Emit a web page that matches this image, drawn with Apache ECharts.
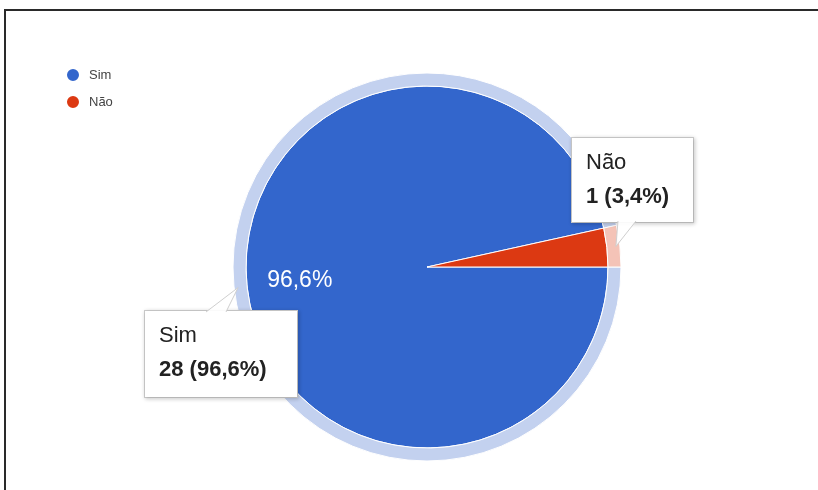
<!DOCTYPE html>
<html>
<head>
<meta charset="utf-8">
<script src="https://cdn.jsdelivr.net/npm/echarts@6/dist/echarts.min.js"></script>
<style>
  html, body { margin: 0; padding: 0; background: #fff; }
  #wrap { position: relative; width: 818px; height: 490px; overflow: hidden; }
  #chart { position: absolute; left: 0; top: 0; width: 818px; height: 490px; }
  #frame { position: absolute; left: 4px; top: 9px; right: -4px; bottom: -4px;
           border-top: 2px solid #2a2a2a; border-left: 2px solid #2a2a2a; pointer-events: none; }
</style>
</head>
<body>
<div id="wrap">
  <div id="chart"></div>
  <div id="frame"></div>
</div>
<script>
// Answers and how many respondents gave each
const categories = ['Sim', 'Não'];
const counts = [28, 1];

// Slice colours and their lighter outer-ring tints
const sliceColors = ['#3366cc', '#dc3912'];
const ringColors = ['#c3d1ef', '#f4c3b7'];

// Geometry of the pie
const center = [427, 267];
const pieRadius = 181;
const ringRadius = [181, 194];
const startAngle = 0;

// Callout boxes: [left, top, width, height] and the base of each pointer
const callouts = [
  { box: [145, 311, 152, 86], base: [[206, 312], [226, 312]] },
  { box: [572, 138, 121, 84], base: [[618, 221], [636, 221]] }
];

const FONT = 'Arial, "Liberation Sans", sans-serif';
const total = counts.reduce((a, b) => a + b, 0);
const pct = v => (v / total * 100).toFixed(1).replace('.', ',') + '%';

// Mid-angle point of a slice at a given radius (clockwise from startAngle)
function slicePoint(i, r) {
  let before = 0;
  for (let k = 0; k < i; k++) before += counts[k];
  const deg = startAngle - (before + counts[i] / 2) / total * 360;
  const rad = deg * Math.PI / 180;
  return [center[0] + r * Math.cos(rad), center[1] - r * Math.sin(rad)];
}

const mainData = categories.map((name, i) => ({
  name, value: counts[i], itemStyle: { color: sliceColors[i] }
}));
const ringData = categories.map((name, i) => ({
  name, value: counts[i], itemStyle: { color: ringColors[i] }
}));
const innerData = categories.map((name, i) => ({
  name, value: counts[i], itemStyle: { color: 'rgba(0,0,0,0)' },
  label: { show: i === 0 }
}));
const calloutData = categories.map((name, i) => ({
  name, value: counts[i], itemStyle: { color: 'rgba(0,0,0,0)' },
  label: { width: callouts[i].box[2] - 28, height: callouts[i].box[3] - 16 }
}));

// Pointer wedges joining each callout box to its slice
const pointers = [];
categories.forEach((name, i) => {
  const tip = slicePoint(i, 190);
  const b = callouts[i].base;
  pointers.push({
    type: 'polygon', z: 30, silent: true,
    shape: { points: [b[0], tip, b[1]] },
    style: { fill: 'rgba(255,255,255,0.92)' }
  });
  pointers.push({
    type: 'polyline', z: 31, silent: true,
    shape: { points: [b[0], tip, b[1]] },
    style: { stroke: '#cfcfcf', lineWidth: 1, fill: null }
  });
});

const chart = echarts.init(document.getElementById('chart'), null, { renderer: 'canvas' });
chart.setOption({
  animation: false,
  backgroundColor: '#ffffff',
  legend: {
    orient: 'vertical',
    left: 60,
    top: 62,
    icon: 'circle',
    itemWidth: 14,
    itemHeight: 14,
    itemGap: 11,
    data: categories,
    textStyle: { fontFamily: FONT, fontSize: 13, color: '#444', padding: [0, 0, 0, 4] }
  },
  graphic: pointers,
  series: [
    {
      name: 'main', type: 'pie', z: 2,
      center: center, radius: [0, pieRadius],
      startAngle: startAngle, clockwise: true,
      silent: true, avoidLabelOverlap: false,
      label: { show: false }, labelLine: { show: false },
      itemStyle: { borderColor: '#ffffff', borderWidth: 1 },
      data: mainData
    },
    {
      name: 'ring', type: 'pie', z: 2,
      center: center, radius: ringRadius,
      startAngle: startAngle, clockwise: true,
      silent: true, avoidLabelOverlap: false,
      label: { show: false }, labelLine: { show: false },
      itemStyle: { borderColor: '#ffffff', borderWidth: 1 },
      data: ringData
    },
    {
      name: 'inner', type: 'pie', z: 3,
      center: center, radius: [69, pieRadius],
      startAngle: startAngle, clockwise: true,
      silent: true, avoidLabelOverlap: false,
      labelLine: { show: false },
      label: {
        position: 'inside',
        formatter: p => pct(p.value),
        color: '#ffffff', fontFamily: FONT, fontSize: 23
      },
      data: innerData
    },
    {
      name: 'callouts', type: 'pie', z: 20,
      center: center, radius: ringRadius,
      startAngle: startAngle, clockwise: true,
      silent: true, avoidLabelOverlap: false,
      labelLine: { show: false },
      label: {
        show: true,
        position: 'outside',
        formatter: p => '{n|' + p.name + '}\n{v|' + p.value + ' (' + pct(p.value) + ')}',
        backgroundColor: '#ffffff',
        borderColor: '#cccccc',
        borderWidth: 1,
        shadowColor: 'rgba(0,0,0,0.18)',
        shadowBlur: 4,
        shadowOffsetX: 1,
        shadowOffsetY: 1,
        padding: [8, 14, 8, 14],
        align: 'left',
        rich: {
          n: { fontFamily: FONT, fontSize: 22, color: '#222', lineHeight: 34 },
          v: { fontFamily: FONT, fontSize: 22, fontWeight: 'bold', color: '#222', lineHeight: 34 }
        }
      },
      labelLayout: p => {
        const c = callouts[p.dataIndex];
        return { x: c.box[0], y: c.box[1], align: 'left', verticalAlign: 'top' };
      },
      data: calloutData
    }
  ]
});
</script>
</body>
</html>
